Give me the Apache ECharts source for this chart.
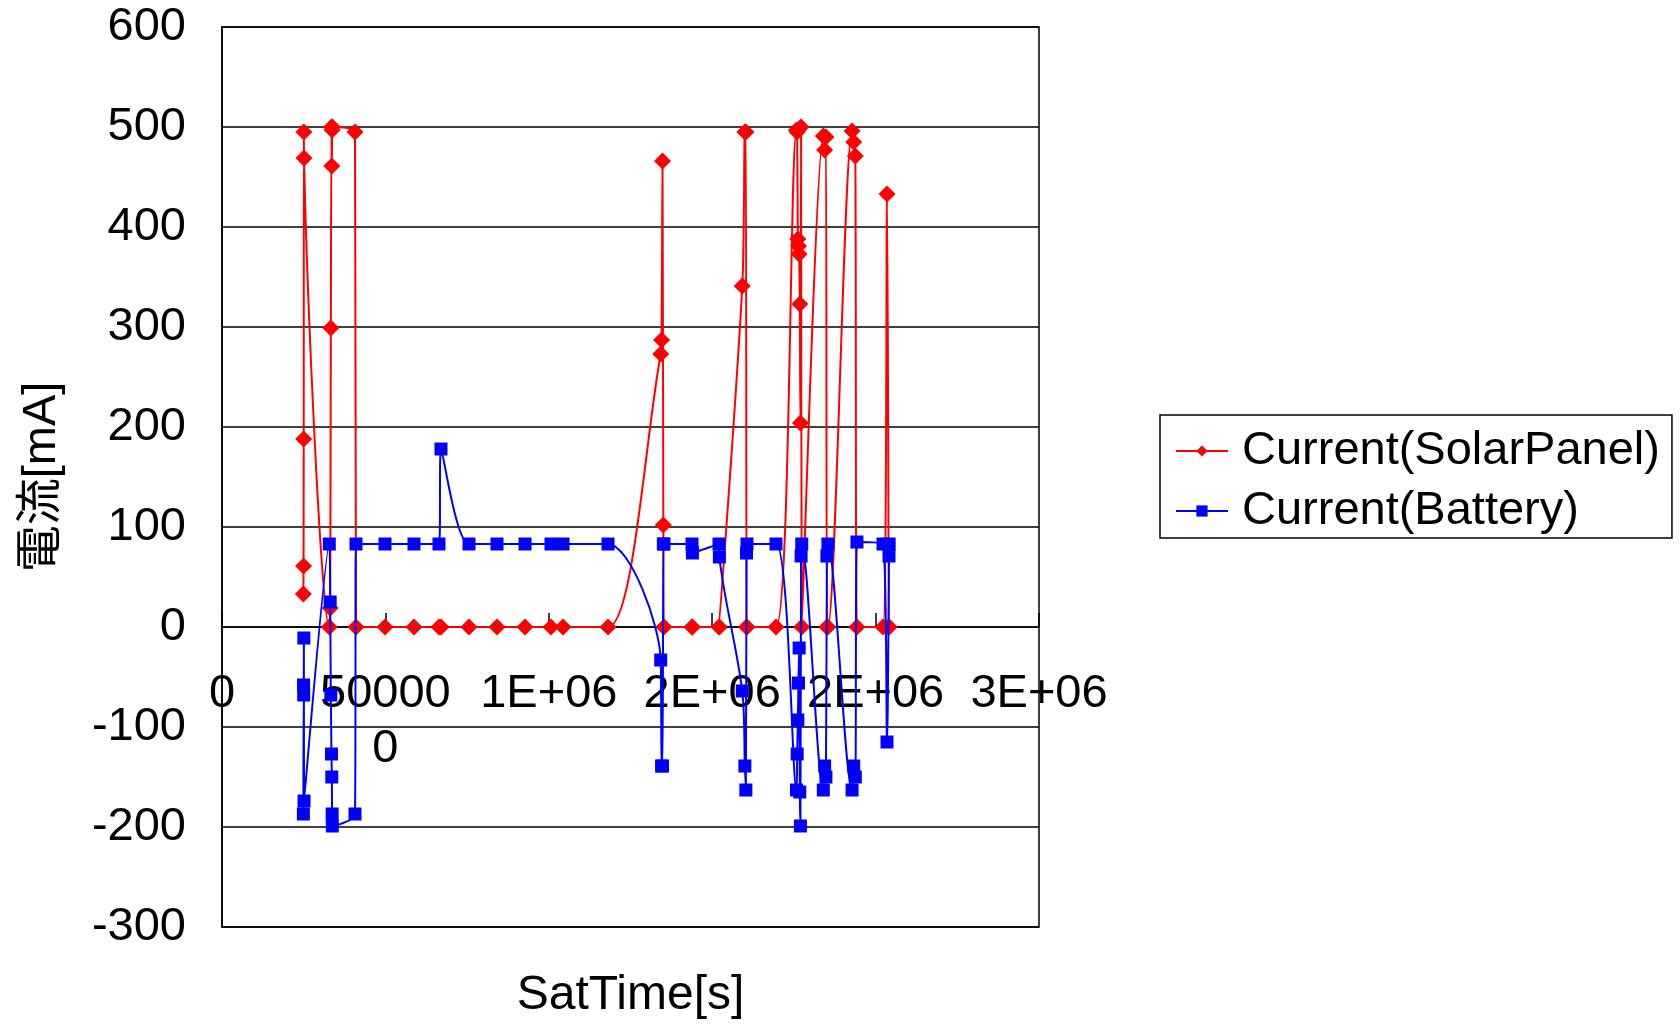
<!DOCTYPE html>
<html>
<head>
<meta charset="utf-8">
<script src="https://cdn.jsdelivr.net/npm/echarts@6/dist/echarts.min.js"></script>
<style>
html,body{margin:0;padding:0;background:#fff;}
#chart{width:1680px;height:1024px;}
</style>
</head>
<body>
<div id="chart"></div>
<script>
// Satellite time [s] of each sample (shared by both series)
const satTime = [
  249000, 249500, 250000, 250500, 251000,
  328300, 331000, 333000, 335000, 336000, 337000, 337500,
  407000, 410000,
  498800, 587500, 664000, 670100, 755800, 841500, 927200, 1006700, 1043500, 1181200,
  1342500, 1345000, 1348000, 1350500, 1352500,
  1438200, 1439500, 1520800, 1522000,
  1592000, 1600000, 1603000, 1605000, 1606500,
  1695200,
  1758000, 1760000, 1762000, 1764000, 1766000, 1768000, 1770000, 1772000, 1774000,
  1840000, 1844000, 1848000, 1851000, 1854000,
  1928000, 1933000, 1938000, 1943000,
  2022700, 2034900, 2041000, 2041500
];
// Current(SolarPanel) [mA]
const solarCurrent = [
  33, 61, 188, 495, 469,
  0, 19, 299, 500, 461, 497, 500,
  495, 0,
  0, 0, 0, 0, 0, 0, 0, 0, 0, 0,
  273, 287, 466, 102, 0,
  0, 0, 0, 0,
  341, 495, 495, 0, 0,
  0,
  497, 495, 388, 381, 373, 323, 204, 500, 0,
  491, 477, 490, 0, 0,
  496, 485, 471, 0,
  0, 433, 0, 0
];
// Current(Battery) [mA]
const batteryCurrent = [
  -187, -58, -68, -11, -174,
  83, 25, -68, -127, -150, -187, -199,
  -187, 83,
  83, 83, 83, 178, 83, 83, 83, 83, 83, 83,
  -33, -139, -139, 83, 83,
  83, 74, 83, 70,
  -64, -139, -163, 74, 83,
  83,
  -163, -127, -93, -56, -21, -165, -199, 71, 83,
  -163, -139, -150, 71, 83,
  -163, -139, -150, 85,
  83, -115, 71, 83
];
const xTickValues = [0, 500000, 1000000, 1500000, 2000000, 2500000];
const xTickLabels = ['0', '50000\n0', '1E+06', '2E+06', '2E+06', '3E+06'];
const seriesNames = ['Current(SolarPanel)', 'Current(Battery)'];

const FONT = '"Liberation Sans", Arial, "Noto Sans CJK JP", sans-serif';
const chart = echarts.init(document.getElementById('chart'), null, {renderer: 'canvas'});

const solarData = satTime.map((t, i) => [t, solarCurrent[i]]);
const batteryData = satTime.map((t, i) => [t, batteryCurrent[i]]);

chart.setOption({
  animation: false,
  backgroundColor: '#ffffff',
  grid: {
    left: 222, right: 641, top: 27, bottom: 97,
    containLabel: false,
    outerBoundsMode: 'none',
    show: true, borderColor: '#000', borderWidth: 1.5, backgroundColor: '#fff'
  },
  legend: {
    orient: 'vertical',
    left: 1160, top: 415,
    borderColor: '#000', borderWidth: 1.5,
    backgroundColor: '#fff',
    padding: [9, 12, 0, 15],
    itemGap: 6,
    itemWidth: 52, itemHeight: 14,
    textStyle: {fontSize: 47, fontFamily: FONT, color: '#000', lineHeight: 54, padding: [0, 0, 0, 9]},
    data: seriesNames
  },
  xAxis: {
    type: 'value',
    min: 0, max: 2500000, interval: 500000,
    name: 'SatTime[s]',
    nameLocation: 'middle',
    nameGap: 45,
    nameMoveOverlap: false,
    nameTextStyle: {fontSize: 48, fontFamily: FONT, color: '#000'},
    axisLine: {onZero: true, lineStyle: {color: '#000', width: 1.5}},
    axisTick: {show: true, inside: true, length: 14, lineStyle: {color: '#000', width: 1.5}},
    splitLine: {show: false},
    axisLabel: {
      fontSize: 47, fontFamily: FONT, color: '#000', margin: -260, lineHeight: 55,
      formatter: function (v) {
        const i = xTickValues.indexOf(v);
        return i >= 0 ? xTickLabels[i] : '';
      }
    }
  },
  yAxis: {
    type: 'value',
    min: -300, max: 600, interval: 100,
    name: '電流[mA]',
    nameLocation: 'middle',
    nameGap: 156,
    nameMoveOverlap: false,
    nameTextStyle: {fontSize: 47, fontFamily: FONT, color: '#000'},
    axisLine: {show: true, lineStyle: {color: '#000', width: 1.5}},
    axisTick: {show: false},
    splitLine: {show: true, lineStyle: {color: '#000', width: 1.5}},
    axisLabel: {fontSize: 47, fontFamily: FONT, color: '#000', margin: 36}
  },
  series: [
    {
      name: seriesNames[0],
      type: 'line',
      data: solarData,
      smooth: 0.3,
      symbol: 'diamond',
      symbolSize: 17,
      itemStyle: {color: '#ff0000'},
      lineStyle: {color: '#ff0000', width: 2},
      z: 3
    },
    {
      name: seriesNames[1],
      type: 'line',
      data: batteryData,
      smooth: 0.3,
      symbol: 'rect',
      symbolSize: 13,
      itemStyle: {color: '#0000ff'},
      lineStyle: {color: '#0000ff', width: 2},
      z: 4
    }
  ]
});
</script>
</body>
</html>
